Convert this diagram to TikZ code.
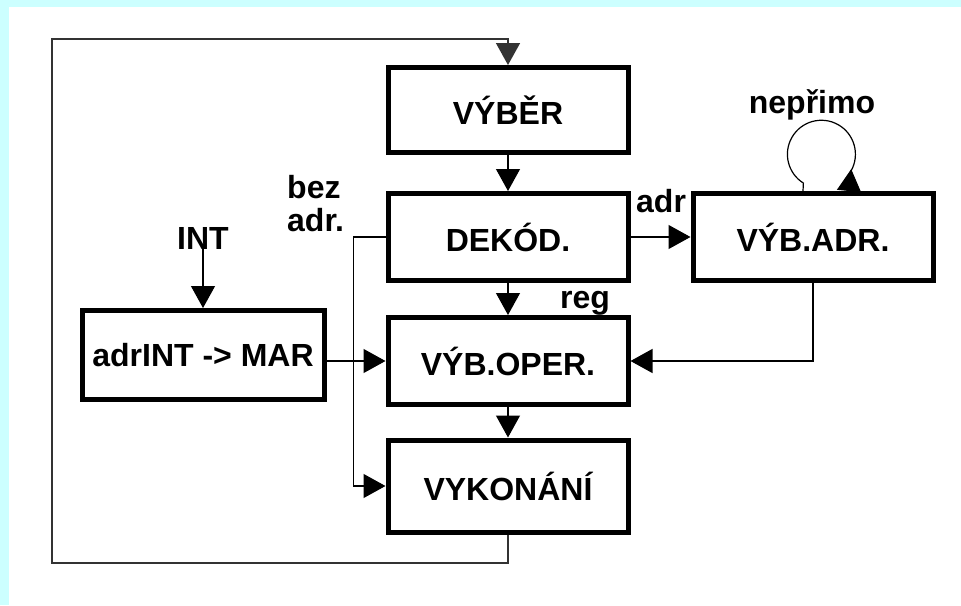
\documentclass[tikz,border=0pt]{standalone}
\usepackage{fontspec}
\setmainfont{Liberation Sans}
\usetikzlibrary{arrows.meta}
\definecolor{bgcyan}{HTML}{CCFFFF}

\begin{document}
\begin{tikzpicture}[x=1pt,y=1pt,yscale=-1,xscale=1,
  box/.style={draw,line width=5pt,minimum width=240pt,minimum height=87pt,inner sep=0pt,font=\fontsize{32}{33}\selectfont\bfseries},
  lbl/.style={inner sep=0pt,font=\fontsize{32}{33}\selectfont\bfseries},
  conn/.style={line width=1.2pt},
  arr/.style={conn,-{Triangle[length=22pt,width=24pt]}}]
\useasboundingbox (0,0) rectangle (961,605);

%Shape: Background
\fill[bgcyan] (0,0) rectangle (961,605);
\fill[white] (9,7) rectangle (961,605);

% Text Node
\node (int) at (203,238) [lbl] {INT};
% Text Node
\node (bez) at (287,175) [lbl,anchor=north west,align=left] {bez\\adr.};
% Text Node
\node (neprimo) at (812,113) [lbl,anchor=base] {nepřimo};
% Text Node
\node (adr) at (636,212) [lbl,anchor=base west] {adr};
% Text Node
\node (reg) at (560,308) [lbl,anchor=base west] {reg};

%Shape: Rectangle
\node (vyber) at (508,110) [box,minimum height=85pt] {VÝBĚR};
%Shape: Rectangle
\node (dekod) at (508,237) [box] {DEKÓD.};
%Shape: Rectangle
\node (vybadr) at (813,237) [box] {VÝB.ADR.};
%Shape: Rectangle
\node (vyboper) at (508,361) [box] {VÝB.OPER.};
%Shape: Rectangle
\node (vykonani) at (508,486) [box,minimum height=92pt] {VYKONÁNÍ};
%Shape: Rectangle
\node (adrint) at (203,355) [box,minimum width=242pt,minimum height=89pt] {adrINT -> MAR};

%Straight Lines
\draw[arr] (vyber.south) -- (dekod.north);
\draw[arr] (dekod.south) -- (vyboper.north);
\draw[arr] (vyboper.south) -- (vykonani.north);
\draw[arr] (dekod.east) -- (vybadr.west);
\draw[arr] (int.south) -- (adrint.north);
\draw[arr] (adrint.east |- vyboper.west) -- (vyboper.west);
\draw[arr] (vybadr.south) |- (vyboper.east);
\draw[arr] (dekod.west) -- ++(-32,0) |- (vykonani.west);

%Curve Lines
\draw[conn,{Triangle[reversed,length=22pt,width=24pt]}-] ([xshift=36pt]vybadr.north) -- ++(2,-20)
  arc[start angle=29.5,end angle=-238,radius=34] -- ([xshift=-10pt]vybadr.north);

% back to the start
\coordinate (lb) at (52,563);
\coordinate (lt) at (52,39);
\draw[arr,line width=1.5pt,black!80] (vykonani.south) |- (lb) -- (lt) -| (vyber.north);

\end{tikzpicture}
\end{document}
